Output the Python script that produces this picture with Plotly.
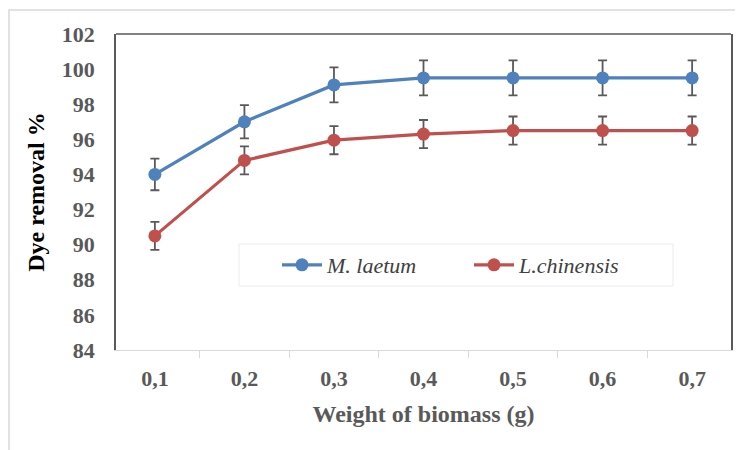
import plotly.graph_objects as go

weights = ["0,1", "0,2", "0,3", "0,4", "0,5", "0,6", "0,7"]
m_laetum = [94.0, 97.0, 99.1, 99.5, 99.5, 99.5, 99.5]
m_laetum_err = [0.9, 0.95, 1.0, 1.0, 1.0, 1.0, 1.0]
l_chinensis = [90.5, 94.8, 95.95, 96.3, 96.5, 96.5, 96.5]
l_chinensis_err = [0.8, 0.8, 0.8, 0.8, 0.8, 0.8, 0.8]
y_ticks = [84, 86, 88, 90, 92, 94, 96, 98, 100, 102]

W, H = 743, 450
OFF = 8  # page body margin
# target plot area in screen pixels: x 116..731, y 34..350
ML = 116 - OFF
MT = 34 - OFF
MR = W - (731 - OFF)
MB = H - (350 - OFF)
pw, ph = W - ML - MR, H - MT - MB

def px_x(x):
    return (x - OFF - ML) / pw

def px_y(y):
    return (H - MB - (y - OFF)) / ph

serif = "Liberation Serif"
gray = "#595959"

fig = go.Figure()
fig.add_trace(go.Scatter(
    x=weights, y=m_laetum, name="M. laetum", mode="lines+markers",
    line=dict(color="#4f81bd", width=3.2),
    marker=dict(color="#4f81bd", size=13),
    error_y=dict(type="data", array=m_laetum_err, color=gray, thickness=1.8, width=4.5),
))
fig.add_trace(go.Scatter(
    x=weights, y=l_chinensis, name="L.chinensis", mode="lines+markers",
    line=dict(color="#c0504d", width=3.2),
    marker=dict(color="#c0504d", size=13),
    error_y=dict(type="data", array=l_chinensis_err, color=gray, thickness=1.8, width=4.5),
))

fig.update_layout(
    width=W, height=H,
    margin=dict(l=ML, r=MR, t=MT, b=MB, autoexpand=False),
    paper_bgcolor="white", plot_bgcolor="white",
    font=dict(family=serif, size=22, color=gray),
    legend=dict(
        orientation="h", x=px_x(277), y=px_y(265), xanchor="left", yanchor="middle",
        bgcolor="rgba(0,0,0,0)", borderwidth=0,
        font=dict(family=serif, size=22, color="#404040", style="italic"),
        entrywidth=137, itemwidth=40,
    ),
    xaxis=dict(
        type="category", showline=True, linecolor="#d9d9d9", linewidth=1.2,
        ticks="outside", tickson="boundaries", ticklen=7, tickcolor="#d9d9d9",
        showgrid=False, automargin=False, ticklabelstandoff=8,
        tickfont=dict(family=serif, size=22, color=gray, weight="bold"),
        title=dict(text="Weight of biomass (g)", font=dict(family=serif, size=24, color=gray, weight="bold"), standoff=15),
    ),
    yaxis=dict(
        range=[84, 102], tickvals=y_ticks, showgrid=False, zeroline=False,
        showline=True, linecolor=gray, linewidth=1.5, mirror=True, ticks="",
        automargin=False, ticklabelstandoff=15,
        tickfont=dict(family=serif, size=22, color=gray, weight="bold"),
        title=dict(text="Dye removal %", font=dict(family=serif, size=24, color="black", weight="bold"), standoff=10),
    ),
    shapes=[
        dict(type="line", xref="paper", yref="paper", x0=0, x1=1, y0=1, y1=1,
             line=dict(color=gray, width=1.5)),
        dict(type="rect", xref="paper", yref="paper",
             x0=px_x(239), x1=px_x(673), y0=px_y(286), y1=px_y(244),
             line=dict(color="#ececec", width=1), layer="below"),
        dict(type="rect", xref="paper", yref="paper",
             x0=px_x(9), x1=px_x(800), y0=px_y(500), y1=px_y(10),
             line=dict(color="#d9d9d9", width=1.5), layer="below"),
    ],
)

fig.write_html("out.html")
